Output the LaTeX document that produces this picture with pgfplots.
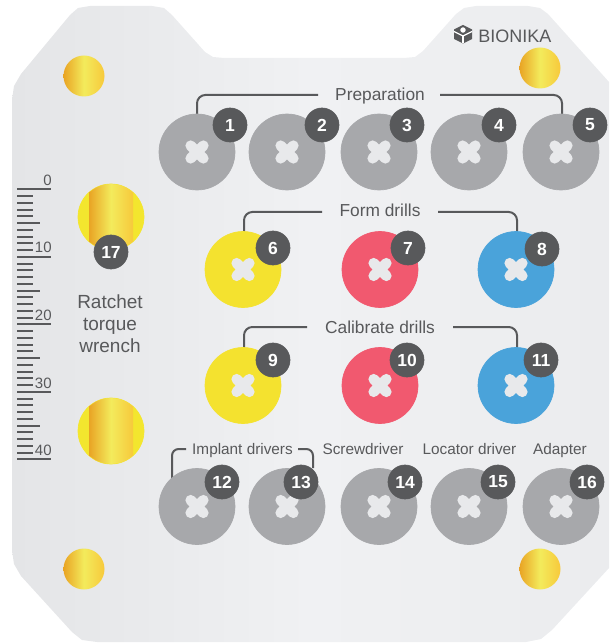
\documentclass[border=0pt]{standalone}
\usepackage{pgfplots}
\pgfplotsset{compat=1.18}
\usepackage{fontspec}
\setmainfont{Liberation Sans}
\definecolor{tray}{HTML}{F0F1F3}
\definecolor{trayL}{HTML}{E4E5E7}
\definecolor{trayR}{HTML}{EBECEE}
\definecolor{tool}{HTML}{A7A8AB}
\definecolor{crossc}{HTML}{E8E9EB}
\definecolor{badge}{HTML}{58595B}
\definecolor{txt}{HTML}{58595B}
\definecolor{yel}{HTML}{F4E22F}
\definecolor{rd}{HTML}{F1596F}
\definecolor{blu}{HTML}{4AA3DA}
\definecolor{goldA}{HTML}{E9A424}
\definecolor{goldB}{HTML}{F3EB5C}
\definecolor{goldC}{HTML}{F7C93B}
\definecolor{bigY}{HTML}{F3E62E}
\pgfplotsset{
  lbl/.style={draw=none, mark=none, nodes near coords, point meta=explicit symbolic,
    every node near coord/.append style={anchor=base, text=txt, inner sep=0pt, font=#1}},
  br/.style={txt, line width=1.2pt, rounded corners=5pt, mark=none},
}
\begin{document}
\begin{tikzpicture}
\begin{axis}[scale only axis, width=365.4pt, height=385.8pt,
  xmin=0, xmax=609, ymin=0, ymax=643, y dir=reverse, hide axis, clip=true, clip marker paths=true]

% frame for the bounding box
\addplot[draw=none, mark=none] coordinates {(0,0) (609,643)};

% tray
\addplot[draw=none, left color=trayL, right color=trayR, middle color=tray] coordinates {
(12,100) (14,86) (21,74) (70,15) (78,8) (90,6) (152,6) (164,8) (172,15) (205,52) (213,57) (224,58)
(404,58) (415,57) (423,51) (456,14) (464,8) (476,6) (528,6) (540,8) (548,14) (609,82) (609,568)
(552,630) (541,639) (526,642) (97,642) (82,640) (72,632) (21,576) (14,564) (12,550)} -- cycle;

% small gold pins
\addplot[draw=none, mark=none, nodes near coords={}, point meta=x,
  every node near coord/.append style={circle, minimum size=24.6pt, inner sep=0pt, anchor=center,
  left color=goldA, right color=goldC, middle color=goldB}]
  coordinates {(84,76) (540,68) (84,569) (540,569)};

% big gold pins (ratchet)
\addplot[only marks, mark=*, mark size=19.8pt, color=bigY] coordinates {(111,217) (111,431)};
\addplot[draw=none, left color=goldA, right color=goldC, middle color=goldB] coordinates {
(89,192.4) (96,187.6) (103,185) (111,184) (119,185) (126,187.6) (133,192.4)
(133,241.6) (126,246.4) (119,249) (111,250) (103,249) (96,246.4) (89,241.6)} -- cycle;
\addplot[draw=none, left color=goldA, right color=goldC, middle color=goldB] coordinates {
(89,406.4) (96,401.6) (103,399) (111,398) (119,399) (126,401.6) (133,406.4)
(133,455.6) (126,460.4) (119,463) (111,464) (103,463) (96,460.4) (89,455.6)} -- cycle;

% ruler ticks
\addplot[txt, line width=1.2pt, mark=none, quiver={u=\thisrow{u}, v=0}] table {
x y u
17 189.3 34
17 196.05 16
17 202.8 16
17 209.55 16
17 216.3 16
17 223.05 23
17 229.8 16
17 236.55 16
17 243.3 16
17 250.05 16
17 256.8 34
17 263.55 16
17 270.3 16
17 277.05 16
17 283.8 16
17 290.55 23
17 297.3 16
17 304.05 16
17 310.8 16
17 317.55 16
17 324.3 34
17 331.05 16
17 337.8 16
17 344.55 16
17 351.3 16
17 358.05 23
17 364.8 16
17 371.55 16
17 378.3 16
17 385.05 16
17 391.8 34
17 398.55 16
17 405.3 16
17 412.05 16
17 418.8 16
17 425.55 23
17 432.3 16
17 439.05 16
17 445.8 16
17 452.55 16
17 459.3 34
};
\addplot[draw=none, mark=none, nodes near coords, point meta=explicit symbolic,
  every node near coord/.append style={anchor=base east, text=txt, inner sep=0pt, font=\fontsize{9}{10}\selectfont}]
  coordinates {(52,186) [0] (52,253) [10] (52,320.5) [20] (52,388) [30] (52,455.5) [40]};

% brackets
\addplot[br] coordinates {(197,116) (197,95) (318,95)};
\addplot[br] coordinates {(440,95) (562,95) (562,116)};
\addplot[br] coordinates {(244,234) (244,212) (322,212)};
\addplot[br] coordinates {(438,212) (517,212) (517,234)};
\addplot[br] coordinates {(244,349) (244,327) (307,327)};
\addplot[br] coordinates {(453,327) (517,327) (517,349)};
\addplot[br, rounded corners=4pt] coordinates {(172,480) (172,449) (186,449)};
\addplot[br, rounded corners=4pt] coordinates {(298,449) (313,449) (313,468)};

% tool circles
\addplot[only marks, mark=*, mark size=22.8pt, color=tool] coordinates {
(197,152) (287,152) (379,152) (469,152) (561,152)
(197,506.5) (287,506.5) (379,506.5) (469,506.5) (561,506.5)};
\addplot[only marks, mark=*, mark size=22.8pt, color=yel] coordinates {(243,269.5) (243,385.5)};
\addplot[only marks, mark=*, mark size=22.8pt, color=rd] coordinates {(380,269.5) (380,385.5)};
\addplot[only marks, mark=*, mark size=22.8pt, color=blu] coordinates {(516,269.5) (516,385.5)};

% crosses
\addplot[only marks, mark=x, mark size=5.4pt, color=crossc,
  mark options={line width=6.3pt, line cap=round}] coordinates {
(197,152) (287,152) (379,152) (469,152) (561,152)
(197,506.5) (287,506.5) (379,506.5) (469,506.5) (561,506.5)
(243,269.5) (243,385.5) (380,269.5) (380,385.5) (516,269.5) (516,385.5)};

% badges
\addplot[only marks, mark=*, mark size=10.2pt, color=badge, nodes near coords, point meta=explicit symbolic,
  every node near coord/.append style={anchor=center, text=white, inner sep=0pt,
  font=\fontsize{10.5}{12}\selectfont\bfseries}] coordinates {
(230,125) [1] (322,125) [2] (407,125) [3] (499,125) [4] (590,125) [5]
(273,248) [6] (408,248) [7] (542,249) [8]
(273,360) [9] (407,360) [10] (541,360) [11]
(222,482) [12] (301,482) [13] (405,482) [14] (498,482) [15] (587,482) [16]
(111,252) [17]};

% labels
\addplot[lbl=\fontsize{10.4}{12}\selectfont] coordinates {
(380,100.5) [Preparation] (380,217) [Form drills] (380,333) [Calibrate drills]};
\addplot[lbl=\fontsize{9.2}{11}\selectfont] coordinates {
(242.5,454) [Implant drivers] (363,454) [Screwdriver] (469.5,454) [Locator driver] (560,454) [Adapter]};
\addplot[lbl=\fontsize{11.4}{13}\selectfont] coordinates {
(110,308.5) [Ratchet] (110,330) [torque] (110,352) [wrench]};
\addplot[draw=none, mark=none, nodes near coords, point meta=explicit symbolic,
  every node near coord/.append style={anchor=base west, text=txt, inner sep=0pt, font=\fontsize{10.8}{12}\selectfont}]
  coordinates {(478,43) [BIONIKA]};

% logo icon
\addplot[draw=none, fill=txt] coordinates {(463,25) (472,29.5) (472,39) (463,43.5) (454,39) (454,29.5)} -- cycle;
\addplot[white, line width=0.7pt, mark=none] coordinates {(454,31.5) (463,36) (472,31.5)};
\addplot[white, line width=0.7pt, mark=none] coordinates {(463,36) (463,43.5)};
\addplot[only marks, mark=*, mark size=1.4pt, color=white] coordinates {(463,30)};
\end{axis}
\end{tikzpicture}
\end{document}
